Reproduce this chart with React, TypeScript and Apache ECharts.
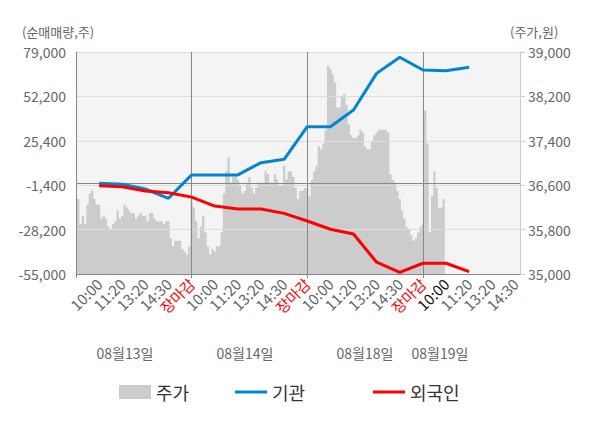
import React, { useEffect, useRef } from 'react';
import * as echarts from 'echarts';

// ---- data ----
const dayLabels = ['08월13일', '08월14일', '08월18일', '08월19일'];
const timeLabels = ['10:00', '11:20', '13:20', '14:30', '장마감'];
const highlightLabel = '08월19일 10:00';

const leftTicks = [-55000, -28200, -1400, 25400, 52200, 79000];
const rightTicks = [35000, 35800, 36600, 37400, 38200, 39000];

// 주가 (price), fine-grained slots
const priceDay1 = [
  36400, 36350, 35900, 36050, 35900, 36250, 36450, 36500, 36350, 36250,
  36250, 36000, 36050, 36000, 35850, 35800, 35900, 35950, 36150, 36000,
  36050, 36250, 36200, 36150, 36100, 36100, 36000, 36050, 36100, 36050,
  36050, 35950, 36100, 36100, 36000, 35950, 35950, 35950, 35900, 35950,
  35950, 35650, 35500, 35600, 35600, 35600, 35450, 35400, 35350, 35500,
  36300,
];
const priceDay2 = [
  36200, 35950, 35650, 35850, 36050, 35750, 35500, 35350, 35450, 35400,
  35500, 35500, 35750, 36450, 36850, 37100, 36650, 36750, 36800, 36700,
  36600, 36450, 36500, 36650, 36750, 36550, 36450, 36550, 36650, 36650,
  36650, 36850, 36800, 36650, 36650, 36800, 36700, 36600, 36600, 36950,
  36700, 36850, 36850, 36750, 36550, 36350, 36500, 36500, 36550, 36550,
];
const priceDay3 = [
  36400, 36700, 36850, 36950, 37300, 37250, 37350, 37600, 38750, 38700,
  38600, 38450, 38000, 38000, 38200, 38250, 38050, 37700, 37500, 37450,
  37450, 37500, 37600, 37550, 37300, 37250, 37250, 37400, 37500, 37550,
  37600, 37600, 37600, 37600, 37550, 36800, 36700, 36650, 36500, 36350,
  36150, 36000, 35850, 35800, 35700, 35600, 35650, 35750, 35850, 35900,
];
const priceDay4 = [37950, 37350, 35750, 36400, 36850, 36550, 36200, 36200, 36350];

// 기관 / 외국인 cumulative net volume at each labelled time
const institution = [
  -200, -800, -3700, -9300, 4800, 4800, 4800, 12200, 14200, 33900,
  33900, 44000, 66100, 75800, 68100, 67700, 69800,
];
const foreigner = [
  -1700, -2300, -4900, -5900, -8600, -14000, -15800, -15800, -18400, -23000,
  -28000, -30900, -47900, -54000, -48500, -48500, -53600,
];

// ---- layout of the category axis ----
const SLOTS_PER_LABEL = 10;
const SLOT_COUNT = 193;
const DAY_SLOTS = SLOTS_PER_LABEL * timeLabels.length;

function buildCategories(): string[] {
  const cats: string[] = [];
  for (let i = 0; i < SLOT_COUNT; i++) {
    if (i > 0 && i % SLOTS_PER_LABEL === 0) {
      const k = i / SLOTS_PER_LABEL - 1;
      const day = Math.floor(k / timeLabels.length);
      const t = timeLabels[k % timeLabels.length];
      cats.push(dayLabels[day] + ' ' + t);
    } else {
      cats.push('s' + i);
    }
  }
  return cats;
}

export default function App() {
  const ref = useRef<HTMLDivElement>(null);

  useEffect(() => {
    if (!ref.current) return;
    const chart = echarts.init(ref.current, undefined, { renderer: 'svg' });

    const categories = buildCategories();
    const leftMin = leftTicks[0];
    const leftMax = leftTicks[leftTicks.length - 1];
    const leftInterval = leftTicks[1] - leftTicks[0];
    const rightMin = rightTicks[0];
    const rightMax = rightTicks[rightTicks.length - 1];
    const rightInterval = rightTicks[1] - rightTicks[0];

    const prices = [...priceDay1, ...priceDay2, ...priceDay3, ...priceDay4];
    const priceData: (number | null)[] = categories.map((_, i) =>
      i < prices.length ? prices[i] - rightMin : null
    );
    const toSlots = (arr: number[]) =>
      categories.map((_, i) => {
        if (i > 0 && i % SLOTS_PER_LABEL === 0) {
          const k = i / SLOTS_PER_LABEL - 1;
          return k < arr.length ? arr[k] - leftMin : null;
        }
        return null;
      });

    const font = 'Noto Sans CJK KR';
    const fmt = (v: number) => v.toLocaleString('en-US');
    const legendBase = {
      top: 378,
      itemWidth: 32,
      selectedMode: false,
      textStyle: { fontSize: 18, color: '#333', fontFamily: font },
    };

    chart.setOption({
      animation: false,
      textStyle: { fontFamily: font },
      grid: {
        left: 76,
        right: 80,
        top: 52,
        bottom: 154,
        show: true,
        backgroundColor: '#f4f4f4',
        borderWidth: 0,
      },
      xAxis: {
        type: 'category',
        data: categories,
        boundaryGap: false,
        z: 3,
        axisLine: { lineStyle: { color: '#888' } },
        axisTick: {
          show: true,
          interval: (i: number) => i % DAY_SLOTS === 0,
          length: 4,
          lineStyle: { color: '#888' },
        },
        splitLine: {
          show: true,
          interval: (i: number) => i % DAY_SLOTS === 0 && i > 0,
          lineStyle: { color: '#888', width: 1 },
        },
        axisLabel: {
          interval: (_i: number, v: string) => !v.startsWith('s'),
          rotate: 45,
          fontSize: 15,
          margin: 7,
          fontFamily: font,
          formatter: (v: string) => (v.startsWith('s') ? '' : v.split(' ')[1]),
          color: (v: string) => {
            if (v === highlightLabel) return '#111';
            if (v && v.endsWith(timeLabels[timeLabels.length - 1])) return '#ff0000';
            return '#666';
          },
        },
      },
      yAxis: [
        {
          type: 'value',
          position: 'left',
          min: 0,
          max: leftMax - leftMin,
          interval: leftInterval,
          z: 3,
          axisLine: { show: true, lineStyle: { color: '#888' } },
          axisTick: { show: false },
          splitLine: { show: true, lineStyle: { color: '#dcdcdc' } },
          axisLabel: {
            fontSize: 14,
            color: '#666',
            margin: 10,
            fontFamily: font,
            formatter: (v: number) => fmt(v + leftMin),
          },
        },
        {
          type: 'value',
          position: 'right',
          min: 0,
          max: rightMax - rightMin,
          interval: rightInterval,
          z: 3,
          axisLine: { show: true, lineStyle: { color: '#ccc' } },
          axisTick: { show: true, length: 5, lineStyle: { color: '#ccc' } },
          splitLine: { show: false },
          axisLabel: {
            fontSize: 14,
            color: '#666',
            margin: 8,
            fontFamily: font,
            formatter: (v: number) => fmt(v + rightMin),
          },
        },
      ],
      legend: [
        {
          ...legendBase,
          data: [{ name: '주가', icon: 'rect' }],
          left: 114,
          itemHeight: 14,
        },
        {
          ...legendBase,
          data: [{ name: '기관', icon: 'rect' }],
          left: 230,
          itemHeight: 3,
        },
        {
          ...legendBase,
          data: [{ name: '외국인', icon: 'rect' }],
          left: 368,
          itemHeight: 3,
        },
      ],
      graphic: [
        {
          type: 'text',
          left: 22,
          top: 25,
          style: { text: '(순매매량,주)', fontSize: 13, fill: '#666', fontFamily: font },
        },
        {
          type: 'text',
          left: 510,
          top: 25,
          style: { text: '(주가,원)', fontSize: 13, fill: '#666', fontFamily: font },
        },
        ...dayLabels.map((d, i) => ({
          type: 'text',
          x: [125, 245, 365, 440][i],
          y: 353,
          style: {
            text: d,
            fontSize: 14,
            fill: '#666',
            fontFamily: font,
            align: 'center',
            verticalAlign: 'middle',
          },
        })),
      ],
      series: [
        {
          name: '주가',
          type: 'line',
          yAxisIndex: 1,
          data: priceData,
          symbol: 'none',
          step: 'middle',
          z: 1,
          lineStyle: { width: 0, color: '#cccccc' },
          itemStyle: { color: '#cccccc' },
          areaStyle: { color: '#cccccc', opacity: 1 },
        },
        {
          name: '기관',
          type: 'line',
          yAxisIndex: 0,
          data: toSlots(institution),
          connectNulls: true,
          symbol: 'none',
          z: 5,
          lineStyle: { width: 3, color: '#0086d1' },
          itemStyle: { color: '#0086d1' },
          markLine: {
            silent: true,
            symbol: 'none',
            label: { show: false },
            lineStyle: { color: '#888', width: 1, type: 'solid' },
            data: [{ yAxis: 0 - leftMin }],
          },
        },
        {
          name: '외국인',
          type: 'line',
          yAxisIndex: 0,
          data: toSlots(foreigner),
          connectNulls: true,
          symbol: 'none',
          z: 5,
          lineStyle: { width: 3, color: '#ff0000' },
          itemStyle: { color: '#ff0000' },
        },
      ],
    });

    return () => chart.dispose();
  }, []);

  return (
    <div
      ref={ref}
      style={{ position: 'absolute', left: 0, top: 0, width: 600, height: 428 }}
    />
  );
}
